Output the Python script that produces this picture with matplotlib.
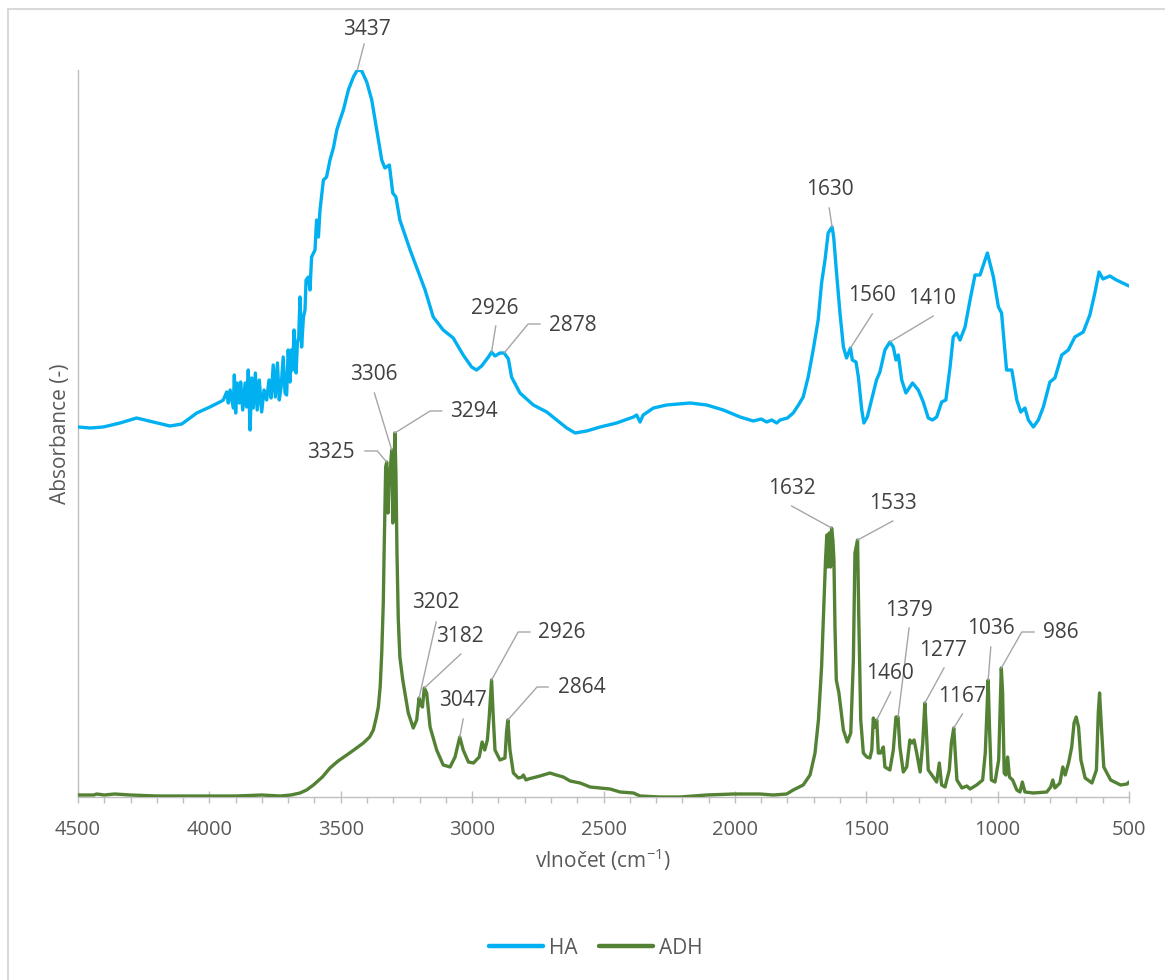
import matplotlib
matplotlib.use("Agg")
import matplotlib.pyplot as plt
from matplotlib.patches import Rectangle

plt.rcParams['font.family'] = ['Open Sans', 'DejaVu Sans']
plt.rcParams['mathtext.fontset'] = 'custom'
plt.rcParams['mathtext.rm'] = 'Open Sans'

# ---------------- data ----------------
ha_wavenumber = [4500, 4454, 4404, 4340, 4277, 4213, 4150, 4105, 4048, 3998, 3960,
    3947, 3934, 3928, 3921, 3909, 3905, 3900, 3894, 3886, 3881, 3873, 3864, 3858, 3852,
    3845, 3839, 3833, 3825, 3818, 3810, 3801, 3792, 3782, 3773, 3765, 3757, 3749, 3741,
    3734, 3727, 3719, 3712, 3706, 3700, 3693, 3688, 3683, 3678, 3670, 3665, 3660, 3655,
    3649, 3642, 3636, 3632, 3623, 3617, 3611, 3598, 3592, 3585, 3579, 3566, 3554, 3541,
    3528, 3515, 3503, 3490, 3471, 3452, 3437, 3420, 3401, 3382, 3363, 3344, 3332, 3315,
    3302, 3290, 3275, 3236, 3179, 3148, 3110, 3072, 3034, 3002, 2983, 2964, 2938, 2926,
    2913, 2894, 2878, 2862, 2850, 2818, 2767, 2716, 2678, 2640, 2608, 2564, 2513, 2450,
    2386, 2374, 2361, 2349, 2310, 2260, 2171, 2107, 2044, 1980, 1930, 1900, 1879, 1860,
    1841, 1828, 1800, 1778, 1758, 1740, 1721, 1702, 1683, 1670, 1657, 1645, 1630, 1624,
    1613, 1600, 1587, 1575, 1560, 1553, 1539, 1530, 1517, 1509, 1496, 1480, 1461, 1448,
    1429, 1410, 1397, 1387, 1378, 1365, 1349, 1324, 1302, 1283, 1264, 1248, 1232, 1213,
    1197, 1181, 1169, 1156, 1143, 1124, 1105, 1086, 1067, 1039, 1016, 997, 985, 966, 946,
    927, 912, 896, 883, 864, 845, 826, 801, 782, 756, 731, 706, 674, 649, 630, 614, 599,
    573, 548, 500]
ha_absorbance = [3.70, 3.69, 3.70, 3.74, 3.79, 3.75, 3.71, 3.73, 3.84, 3.90, 3.95,
    3.97, 4.05, 3.94, 4.07, 3.89, 4.22, 3.84, 4.14, 3.94, 4.15, 3.87, 4.14, 3.90, 4.27,
    3.67, 4.19, 3.89, 4.24, 3.87, 4.17, 3.85, 4.07, 3.97, 4.17, 3.99, 4.32, 4.00, 4.34,
    3.97, 4.10, 4.40, 4.04, 4.02, 4.47, 4.15, 4.47, 4.27, 4.67, 4.24, 4.54, 4.60, 5.00,
    4.50, 4.80, 4.87, 5.17, 5.20, 5.07, 5.40, 5.47, 5.77, 5.60, 5.87, 6.17, 6.20, 6.37,
    6.49, 6.67, 6.77, 6.87, 7.07, 7.20, 7.27, 7.26, 7.15, 6.97, 6.67, 6.37, 6.29, 6.32,
    6.04, 6.00, 5.77, 5.47, 5.07, 4.80, 4.67, 4.59, 4.42, 4.30, 4.27, 4.31, 4.40, 4.45,
    4.41, 4.44, 4.44, 4.38, 4.20, 4.04, 3.92, 3.85, 3.77, 3.69, 3.64, 3.66, 3.70, 3.74,
    3.80, 3.82, 3.75, 3.82, 3.89, 3.92, 3.94, 3.92, 3.87, 3.80, 3.76, 3.78, 3.75, 3.77,
    3.74, 3.77, 3.79, 3.84, 3.92, 4.00, 4.20, 4.47, 4.77, 5.14, 5.37, 5.64, 5.70, 5.60,
    5.24, 4.84, 4.50, 4.39, 4.49, 4.37, 4.35, 4.20, 3.87, 3.74, 3.80, 3.97, 4.17, 4.25,
    4.47, 4.55, 4.50, 4.37, 4.42, 4.17, 4.04, 4.14, 4.07, 3.95, 3.79, 3.77, 3.80, 3.95,
    3.97, 4.30, 4.60, 4.64, 4.57, 4.70, 4.97, 5.22, 5.22, 5.44, 5.20, 4.90, 4.84, 4.27, 4.27,
    3.97, 3.85, 3.89, 3.77, 3.70, 3.77, 3.90, 4.15, 4.19, 4.42, 4.47, 4.60, 4.65, 4.82,
    5.04, 5.25, 5.18, 5.21, 5.17, 5.11]

adh_wavenumber = [4500, 4440, 4429, 4400, 4360, 4300, 4200, 4100, 4000, 3900, 3800,
    3731, 3690, 3655, 3630, 3604, 3570, 3541, 3510, 3477, 3445, 3414, 3390, 3376, 3366,
    3357, 3350, 3344, 3338, 3335, 3329, 3325, 3320, 3316, 3311, 3306, 3302, 3299, 3294,
    3290, 3286, 3281, 3275, 3264, 3243, 3224, 3211, 3202, 3195, 3189, 3182, 3173, 3160,
    3135, 3110, 3084, 3065, 3047, 3034, 3014, 2995, 2973, 2962, 2952, 2942, 2935, 2926,
    2919, 2913, 2894, 2875, 2869, 2864, 2856, 2843, 2824, 2810, 2805, 2795, 2786, 2742,
    2704, 2680, 2653, 2627, 2589, 2551, 2513, 2475, 2437, 2386, 2361, 2285, 2209, 2107,
    2006, 1904, 1854, 1803, 1778, 1740, 1714, 1695, 1682, 1670, 1661, 1655, 1650, 1646,
    1641, 1636, 1632, 1627, 1623, 1619, 1614, 1604, 1587, 1572, 1559, 1549, 1543, 1533,
    1529, 1521, 1511, 1498, 1486, 1479, 1473, 1467, 1460, 1454, 1445, 1435, 1429, 1410,
    1397, 1387, 1379, 1372, 1359, 1346, 1334, 1326, 1318, 1308, 1295, 1285, 1277, 1272,
    1264, 1245, 1232, 1222, 1213, 1200, 1184, 1176, 1167, 1162, 1155, 1136, 1117, 1105,
    1080, 1057, 1047, 1036, 1031, 1024, 1010, 996, 986, 981, 975, 969, 962, 955, 943,
    927, 915, 906, 896, 864, 813, 798, 790, 782, 763, 752, 743, 730, 718, 709, 701, 692,
    683, 667, 641, 624, 617, 612, 605, 596, 570, 532, 507, 500]
adh_absorbance = [0.02, 0.02, 0.03, 0.02, 0.03, 0.02, 0.01, 0.01, 0.01, 0.01, 0.02,
    0.01, 0.02, 0.04, 0.07, 0.12, 0.20, 0.29, 0.36, 0.42, 0.48, 0.54, 0.60, 0.67, 0.78,
    0.90, 1.10, 1.44, 1.95, 2.44, 3.30, 3.35, 2.84, 3.20, 3.30, 3.47, 2.74, 3.10, 3.64,
    3.24, 2.44, 1.77, 1.40, 1.17, 0.84, 0.69, 0.77, 0.99, 0.92, 0.90, 1.09, 1.04, 0.70,
    0.47, 0.32, 0.30, 0.40, 0.60, 0.47, 0.35, 0.34, 0.40, 0.55, 0.47, 0.57, 0.80, 1.17,
    0.77, 0.47, 0.37, 0.39, 0.65, 0.77, 0.47, 0.24, 0.19, 0.20, 0.22, 0.17, 0.18, 0.21,
    0.24, 0.22, 0.20, 0.16, 0.14, 0.10, 0.09, 0.08, 0.05, 0.04, 0.01, 0.00, 0.00, 0.02,
    0.03, 0.03, 0.02, 0.03, 0.07, 0.12, 0.22, 0.44, 0.77, 1.30, 1.94, 2.37, 2.62, 2.30,
    2.64, 2.30, 2.69, 2.57, 2.37, 1.70, 1.17, 1.04, 0.67, 0.55, 0.64, 1.37, 2.44, 2.57,
    1.87, 0.77, 0.44, 0.40, 0.39, 0.47, 0.79, 0.70, 0.77, 0.44, 0.44, 0.50, 0.30, 0.27,
    0.47, 0.80, 0.80, 0.50, 0.25, 0.30, 0.57, 0.54, 0.57, 0.44, 0.25, 0.54, 0.94, 0.70,
    0.27, 0.20, 0.15, 0.34, 0.12, 0.10, 0.27, 0.54, 0.69, 0.47, 0.17, 0.09, 0.11, 0.08,
    0.12, 0.17, 0.44, 1.17, 0.70, 0.17, 0.15, 0.37, 1.29, 1.04, 0.24, 0.22, 0.40, 0.20, 0.17,
    0.07, 0.05, 0.15, 0.05, 0.04, 0.05, 0.10, 0.17, 0.09, 0.14, 0.30, 0.22, 0.34, 0.50,
    0.74, 0.80, 0.70, 0.37, 0.19, 0.14, 0.27, 0.84, 1.04, 0.70, 0.30, 0.17, 0.12, 0.13, 0.15]

series_names = ["HA", "ADH"]
x_ticks = [4500, 4000, 3500, 3000, 2500, 2000, 1500, 1000, 500]

# annotated peak labels
ha_peaks = ["3437", "2926", "2878", "1630", "1560", "1410"]
adh_peaks = ["3325", "3306", "3294", "3202", "3182", "3047", "2926", "2864",
             "1632", "1533", "1460", "1379", "1277", "1167", "1036", "986"]

# ---------------- layout of annotations (text centre, leader path) ----------------
ha_label_layout = {
    "3437": (3400, 7.67, [(3411, 7.53)]),
    "2926": (2913, 4.89, [(2910, 4.71)]),
    "2878": (2618, 4.715, [(2742, 4.73), (2787, 4.73)]),
    "1630": (1638, 6.07, [(1641, 5.89)]),
    "1560": (1480, 5.015, [(1477, 4.83)]),
    "1410": (1248, 4.985, [(1245, 4.81)]),
}
adh_label_layout = {
    "3325": (3537, 3.44, [(3408, 3.46), (3361, 3.46)]),
    "3306": (3373, 4.22, [(3372, 4.04)]),
    "3294": (2995, 3.855, [(3116, 3.86), (3160, 3.86)]),
    "3202": (3137, 1.94, [(3137, 1.75)]),
    "3182": (3046, 1.60, [(3043, 1.43)]),
    "3047": (3035, 0.97, [(3034, 0.78)]),
    "2926": (2660, 1.645, [(2780, 1.65), (2825, 1.65)]),
    "2864": (2584, 1.095, [(2711, 1.10), (2753, 1.10)]),
    "1632": (1784, 3.085, [(1784, 2.91)]),
    "1533": (1400, 2.935, [(1399, 2.76)]),
    "1460": (1408, 1.235, [(1407, 1.05)]),
    "1379": (1339, 1.87, [(1337, 1.69)]),
    "1277": (1206, 1.46, [(1204, 1.29)]),
    "1167": (1135, 1.01, [(1134, 0.83)]),
    "1036": (1024, 1.685, [(1026, 1.50)]),
    "986": (761, 1.645, [(861, 1.65), (908, 1.65)]),
}

HA_COLOR = "#00B0F0"
ADH_COLOR = "#548235"
TEXT_DARK = "#404040"
TEXT_MID = "#595959"
AXIS_GRAY = "#BFBFBF"
LEADER = "#A6A6A6"

W, H = 1165, 980
fig = plt.figure(figsize=(W / 100, H / 100), dpi=100)
ax = fig.add_axes([78 / W, 1 - 797 / H, (1129 - 78) / W, (797 - 70) / H])

ax.plot(ha_wavenumber, ha_absorbance, color=HA_COLOR, lw=2.4, label=series_names[0],
        solid_joinstyle='round', solid_capstyle='round', zorder=3)
ax.plot(adh_wavenumber, adh_absorbance, color=ADH_COLOR, lw=2.4, label=series_names[1],
        solid_joinstyle='round', solid_capstyle='round', zorder=3)

ax.set_xlim(4500, 500)
ax.set_ylim(0, 7.27)


def annotate(labels, wn, ab, layout):
    for lab in labels:
        peak_x = float(lab)
        idx = min(range(len(wn)), key=lambda i: abs(wn[i] - peak_x))
        peak_y = ab[idx]
        tx, ty, pts = layout[lab]
        xs = [p[0] for p in pts] + [wn[idx]]
        ys = [p[1] for p in pts] + [peak_y]
        ax.plot(xs, ys, color=LEADER, lw=1.0, zorder=4, clip_on=False)
        ax.text(tx, ty, lab, ha='center', va='center', fontsize=15,
                color=TEXT_DARK, zorder=5, clip_on=False)


annotate(ha_peaks, ha_wavenumber, ha_absorbance, ha_label_layout)
annotate(adh_peaks, adh_wavenumber, adh_absorbance, adh_label_layout)

for s in ['top', 'right']:
    ax.spines[s].set_visible(False)
for s in ['left', 'bottom']:
    ax.spines[s].set_color(AXIS_GRAY)
    ax.spines[s].set_linewidth(1.0)
ax.set_yticks([])
ax.set_xticks(x_ticks)
ax.set_xticks(range(4500, 499, -100), minor=True)
ax.tick_params(axis='x', which='major', direction='inout', length=9, width=1,
               color=AXIS_GRAY, labelsize=14.5, labelcolor=TEXT_MID, pad=12)
ax.tick_params(axis='x', which='minor', direction='out', length=4.5, width=1,
               color=AXIS_GRAY)

ax.set_xlabel("vlnočet (cm$^{-1}$)", fontsize=15, color=TEXT_MID, labelpad=5)
ax.set_ylabel("Absorbance (-)", fontsize=15, color=TEXT_MID, labelpad=5)

leg = fig.legend(loc='center', bbox_to_anchor=(596 / W, 1 - 948 / H), ncol=2,
                 frameon=False, fontsize=15, handlelength=2.6, handletextpad=0.3,
                 columnspacing=1.0, labelcolor=TEXT_MID)
for line in leg.get_lines():
    line.set_linewidth(3.2)

fig.patches.append(Rectangle((8 / W, -10 / H), (W + 20) / W, (H - 9 + 10) / H,
                             transform=fig.transFigure, fill=False,
                             edgecolor="#D9D9D9", lw=1.5))

fig.savefig("out.png", dpi=100)
